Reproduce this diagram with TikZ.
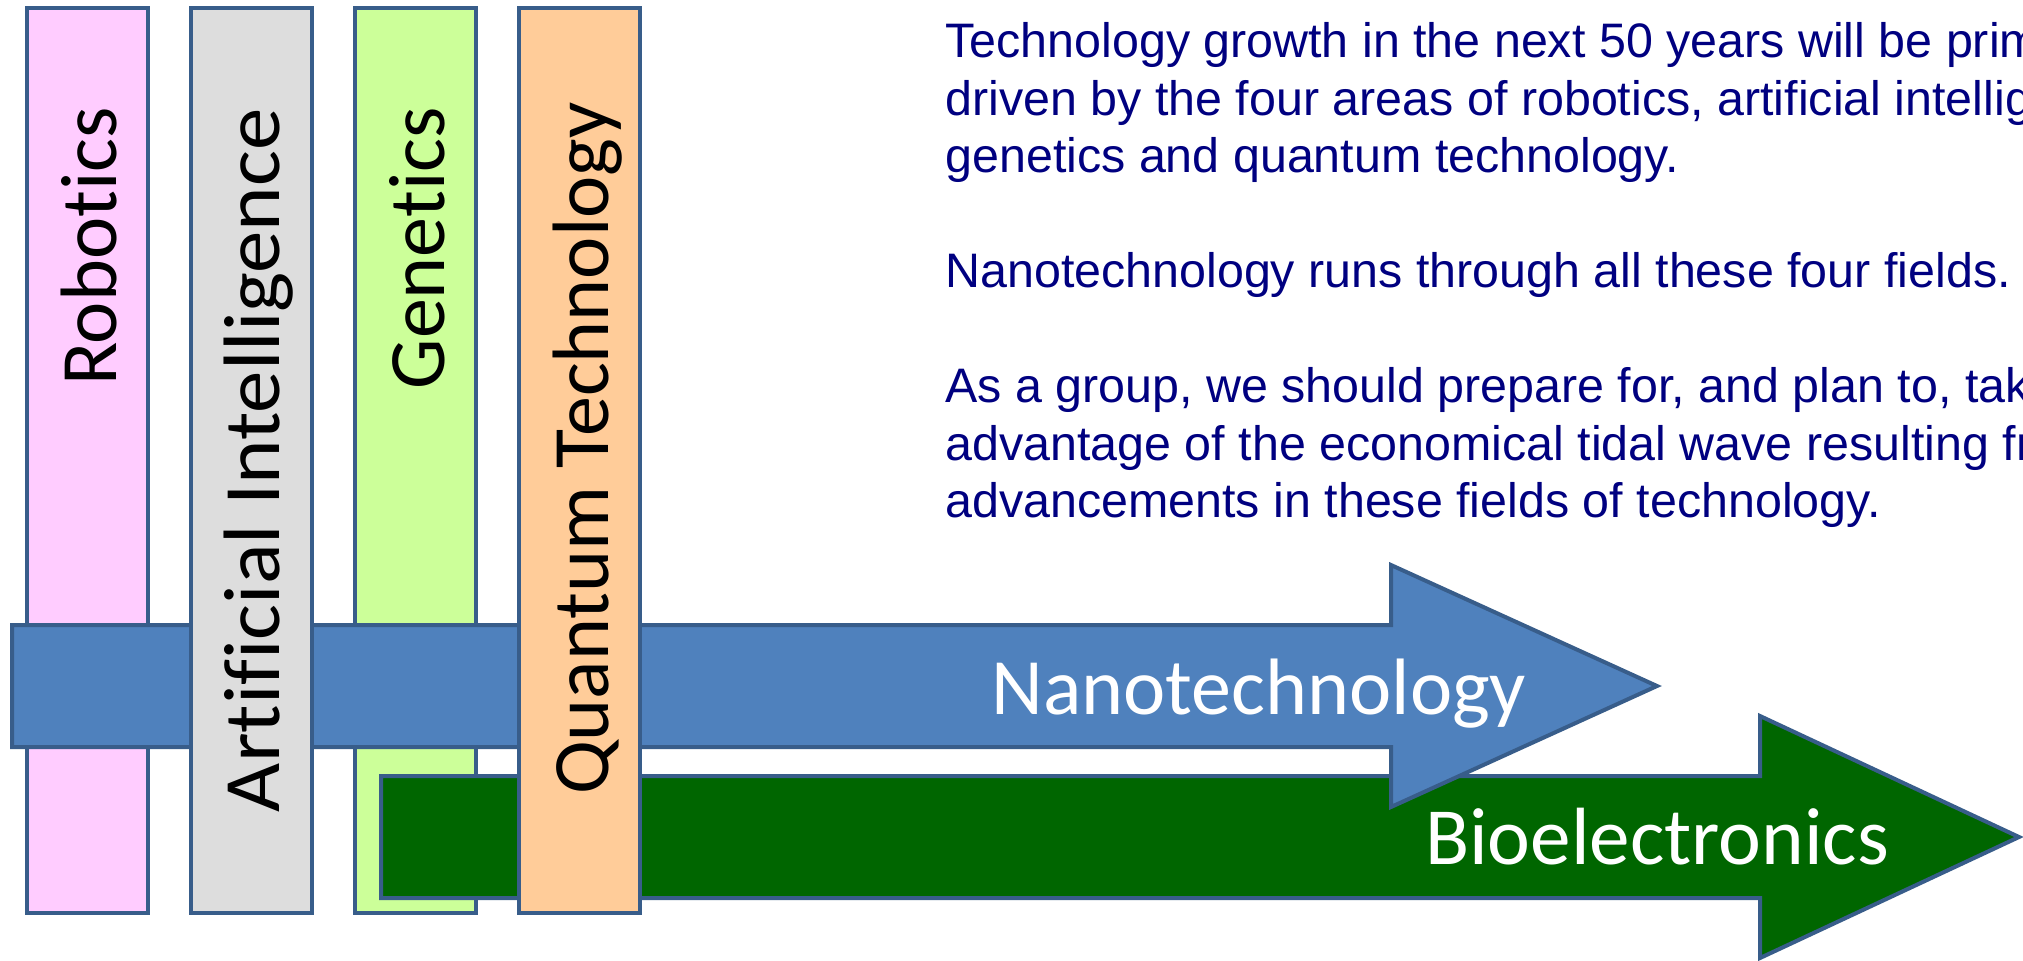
\documentclass[tikz,border=0pt]{standalone}
\usepackage{fontspec}
\setmainfont{Carlito}[Ligatures=CommonOff]
\newfontfamily\parafont{Liberation Sans}
\definecolor{edge}{RGB}{56,93,138}
\definecolor{robofill}{RGB}{255,204,255}
\definecolor{aifill}{RGB}{221,221,221}
\definecolor{genfill}{RGB}{204,255,153}
\definecolor{qfill}{RGB}{255,204,153}
\definecolor{nanofill}{RGB}{79,129,189}
\definecolor{biofill}{RGB}{0,102,0}
\definecolor{navytext}{RGB}{0,0,128}
\begin{document}
\begin{tikzpicture}[x=0.5pt,y=-0.5pt,
  bar/.style={draw=edge, line width=2pt, rectangle, inner sep=0pt,
    minimum width=60.5pt, minimum height=452.5pt},
  barlabel/.style={rotate=90, anchor=base east, inner sep=0pt,
    font=\fontsize{40}{48}\selectfont},
  arrowshape/.style={draw=edge, line width=2pt},
  arrowlabel/.style={anchor=base, inner sep=0pt, text=white,
    font=\fontsize{40}{48}\selectfont},
  para/.style={anchor=base west, inner sep=0pt, text=navytext,
    font=\parafont\fontsize{24.2}{29}\selectfont}]
\useasboundingbox (0,0) rectangle (2023,960);
\clip (0,0) rectangle (2023,960);

% bars behind the arrows
\node[bar, fill=robofill] (rob) at (87.5,460.5) {};
\node[bar, fill=genfill] (gen) at (415.5,460.5) {};

% Bioelectronics arrow
\coordinate (bioS) at (381,837);
\draw[arrowshape, fill=biofill] (381,776) -- (1760,776) -- (1760,716) -- (2019,837)
  -- (1760,958) -- (1760,898) -- (381,898) -- cycle;

% Nanotechnology arrow
\coordinate (nanoS) at (12,686);
\draw[arrowshape, fill=nanofill] (12,625) -- (1391,625) -- (1391,565) -- (1657,686)
  -- (1391,807) -- (1391,747) -- (12,747) -- cycle;

% bars in front of the arrows
\node[bar, fill=aifill] (ai) at (251.5,460.5) {};
\node[bar, fill=qfill] (qt) at (579.5,460.5) {};

% bar labels
\node[barlabel] (robl) at (116,107) {Robotics};
\node[barlabel] (ail) at (279,108) {\scalebox{1.06}[1]{Artificial Intelligence}};
\node[barlabel] (genl) at (444,107) {Genetics};
\node[barlabel] (qtl) at (608,102) {Quantum Technology};

% arrow labels
\node[arrowlabel] (nanol) at (1259,714) {Nanotechnology};
\node[arrowlabel, font=\fontsize{40.6}{48}\selectfont] (biol) at (1657,864) {Bioelectronics};

% paragraph text
\node[para] (p1) at (945,57.5) {Technology growth in the next 50 years will be primarily};
\node[para] (p2) at (945,115) {driven by the four areas of robotics, artificial intelligence,};
\node[para] (p3) at (945,172.5) {genetics and quantum technology.};
\node[para] (p4) at (945,287.5) {Nanotechnology runs through all these four fields.};
\node[para] (p5) at (945,402.5) {As a group, we should prepare for, and plan to, take};
\node[para] (p6) at (945,460) {advantage of the economical tidal wave resulting from};
\node[para] (p7) at (945,517.5) {advancements in these fields of technology.};
\end{tikzpicture}
\end{document}
